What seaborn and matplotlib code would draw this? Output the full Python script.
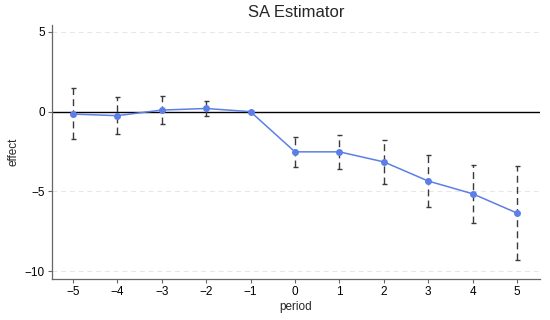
import numpy as np
import pandas as pd
import matplotlib
matplotlib.use('Agg')
import matplotlib.pyplot as plt
import seaborn as sns

# event-study estimates
period = [-5, -4, -3, -2, -1, 0, 1, 2, 3, 4, 5]
effect = [-0.15, -0.25, 0.1, 0.2, 0.0, -2.52, -2.52, -3.15, -4.35, -5.15, -6.36]
ci_hi = [1.5, 0.9, 1.0, 0.7, 0.0, -1.58, -1.44, -1.79, -2.69, -3.33, -3.42]
ci_lo = [-1.7, -1.4, -0.75, -0.27, 0.0, -3.46, -3.58, -4.52, -6.0, -6.96, -9.3]

df = pd.DataFrame({'period': period, 'effect': effect, 'hi': ci_hi, 'lo': ci_lo})

sns.set_style('white')
plt.rcParams['font.family'] = ['Liberation Sans', 'DejaVu Sans']

fig = plt.figure(figsize=(5.5, 3.2), dpi=100)
ax = fig.add_axes([0.0945, 0.128, 0.8875, 0.794])

# grid lines (dashed, very light)
for yv in [5, -5, -10]:
    ax.axhline(yv, color='#e6e6e6', lw=0.7, ls=(0, (5, 4)), zorder=0)
ax.axhline(0, color='black', lw=1.0, zorder=1)

# confidence intervals, dashed with little caps
ci = df[df['period'] != -1]
eb = ax.errorbar(ci['period'], ci['effect'],
                 yerr=[ci['effect'] - ci['lo'], ci['hi'] - ci['effect']],
                 fmt='none', ecolor='#3a3a3a', elinewidth=1.0, capsize=1.8,
                 capthick=1.0, zorder=2)
eb[2][0].set_linestyle((0, (5, 3)))

sns.lineplot(data=df, x='period', y='effect', color='#5b7fe6', lw=1.1,
             marker='o', markersize=5, markeredgewidth=0, ax=ax, zorder=3)

ax.set_xlim(-5.47, 5.52)
ax.set_ylim(-10.5, 5.44)
ax.set_xticks(period)
ax.set_yticks([5, 0, -5, -10])
ax.set_xlabel('period', fontsize=8.5, labelpad=2)
ax.set_ylabel('effect', fontsize=8.5, labelpad=4)
ax.set_title('SA Estimator', fontsize=12, pad=6)
ax.tick_params(axis='both', labelsize=8.5, length=3, width=0.8, direction='out',
               bottom=True, left=True, color='#666666', labelcolor='black', pad=2)
for s in ['top', 'right']:
    ax.spines[s].set_visible(False)
for s in ['left', 'bottom']:
    ax.spines[s].set_color('#666666')
    ax.spines[s].set_linewidth(0.9)

fig.savefig('out.png', dpi=100)
